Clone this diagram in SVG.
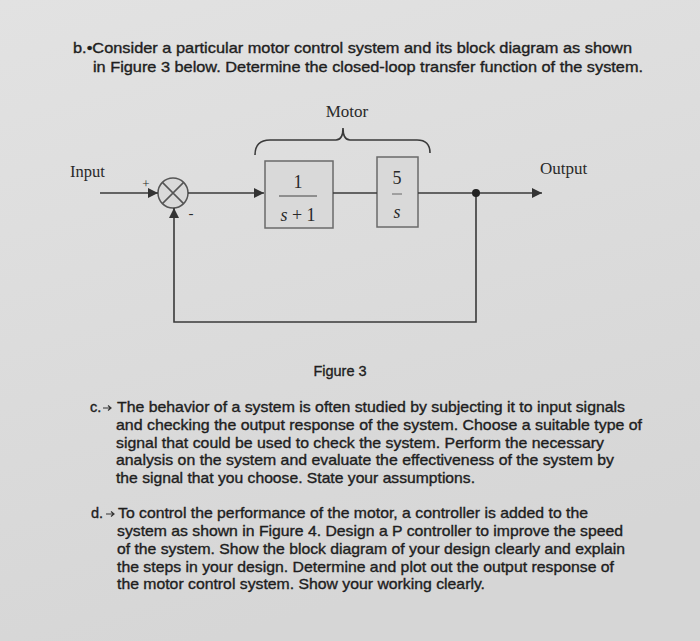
<svg xmlns="http://www.w3.org/2000/svg" width="700" height="641" viewBox="0 0 700 641">
<defs>
<linearGradient id="bg" x1="0" y1="0" x2="0.3" y2="1">
<stop offset="0" stop-color="#e2e2e2"/>
<stop offset="1" stop-color="#d6d6d6"/>
</linearGradient>
<marker id="arr" viewBox="0 0 10 10" refX="10" refY="5" markerWidth="10" markerHeight="10" markerUnits="userSpaceOnUse" orient="auto">
<path d="M0,0 L10,5 L0,10 Z" fill="#333"/>
</marker>
</defs>
<style>
.t{font-family:"Liberation Sans",Arial,sans-serif;font-size:14.5px;fill:#1e1e1e;stroke:#1e1e1e;stroke-width:0.35px}
.s{font-family:"Liberation Serif","Times New Roman",serif;fill:#2a2a2a}
.w{fill:none;stroke:#3a3a3a;stroke-width:1.6}
.blk{fill:#d9d9d9;stroke:#6a6a6a;stroke-width:1.5}
</style>
<rect x="0" y="0" width="700" height="641" fill="url(#bg)"/>

<g id="text-b">
<text class="t" x="73" y="53" textLength="559" lengthAdjust="spacingAndGlyphs">b.•Consider a particular motor control system and its block diagram as shown</text>
<text class="t" x="93" y="72" textLength="550" lengthAdjust="spacingAndGlyphs">in Figure 3 below. Determine the closed-loop transfer function of the system.</text>
</g>

<g id="motor-label">
<path class="w" d="M255,155 Q255,140 270,140 L336,140 Q343,140 343,128 Q343,140 350,140 L417,140 Q430,140 430,153" stroke="#666" stroke-width="1.4"/>
<text class="s" x="347" y="117" font-size="17" text-anchor="middle">Motor</text>
</g>

<g id="input-label"><text class="s" x="70" y="177" font-size="16.5">Input</text></g>
<g id="output-label"><text class="s" x="540" y="174" font-size="17">Output</text></g>

<g id="sum">
<circle cx="173" cy="193" r="15" fill="#d9d9d9" stroke="#555" stroke-width="1.5"/>
<path d="M162.4,182.4 L183.6,203.6 M183.6,182.4 L162.4,203.6" stroke="#555" stroke-width="1.5"/>
<text class="s" x="146" y="188" font-size="13" text-anchor="middle">+</text>
<text class="s" x="191" y="218" font-size="15" text-anchor="middle">-</text>
</g>

<g id="block1">
<rect class="blk" x="265" y="161" width="68" height="67"/>
<text class="s" x="298" y="188" font-size="18" text-anchor="middle">1</text>
<line x1="279" y1="196" x2="317" y2="196" stroke="#444" stroke-width="1"/>
<text class="s" x="298" y="221" font-size="18" text-anchor="middle"><tspan font-style="italic">s</tspan> + 1</text>
</g>

<g id="block2">
<rect class="blk" x="377" y="157" width="41" height="70"/>
<text class="s" x="397" y="184" font-size="18" text-anchor="middle">5</text>
<line x1="392" y1="194" x2="402" y2="194" stroke="#666" stroke-width="1"/>
<text class="s" x="397" y="218" font-size="18" font-style="italic" text-anchor="middle">s</text>
</g>

<g id="connectors">
<line class="w" x1="100" y1="193" x2="158" y2="193" marker-end="url(#arr)"/>
<line class="w" x1="188" y1="193" x2="264" y2="193" marker-end="url(#arr)"/>
<line class="w" x1="333" y1="193" x2="377" y2="193"/>
<line class="w" x1="418" y1="193" x2="542" y2="193" marker-end="url(#arr)"/>
<polyline class="w" points="476,193 476,322 174,322 174,208" marker-end="url(#arr)"/>
<circle cx="476" cy="193" r="4" fill="#222"/>
</g>

<g id="caption"><text class="t" x="340" y="376" text-anchor="middle">Figure 3</text></g>

<g id="text-c">
<text class="t" x="90" y="412">c.</text>
<text class="t" x="117" y="412" textLength="508" lengthAdjust="spacingAndGlyphs">The behavior of a system is often studied by subjecting it to input signals</text>
<path d="M103,408 L111,408 M108,405.5 L111,408 L108,410.5" stroke="#333" stroke-width="1.2" fill="none"/>
<text class="t" x="116" y="430" textLength="526" lengthAdjust="spacingAndGlyphs">and checking the output response of the system. Choose a suitable type of</text>
<text class="t" x="116" y="448" textLength="488" lengthAdjust="spacingAndGlyphs">signal that could be used to check the system. Perform the necessary</text>
<text class="t" x="116" y="465" textLength="498" lengthAdjust="spacingAndGlyphs">analysis on the system and evaluate the effectiveness of the system by</text>
<text class="t" x="116" y="483" textLength="359" lengthAdjust="spacingAndGlyphs">the signal that you choose. State your assumptions.</text>
</g>

<g id="text-d">
<text class="t" x="91" y="518">d.</text>
<path d="M106,514 L114,514 M111,511.5 L114,514 L111,516.5" stroke="#333" stroke-width="1.2" fill="none"/>
<text class="t" x="118" y="518" textLength="470" lengthAdjust="spacingAndGlyphs">To control the performance of the motor, a controller is added to the</text>
<text class="t" x="117" y="536" textLength="506" lengthAdjust="spacingAndGlyphs">system as shown in Figure 4. Design a P controller to improve the speed</text>
<text class="t" x="117" y="554" textLength="508" lengthAdjust="spacingAndGlyphs">of the system. Show the block diagram of your design clearly and explain</text>
<text class="t" x="117" y="572" textLength="497" lengthAdjust="spacingAndGlyphs">the steps in your design. Determine and plot out the output response of</text>
<text class="t" x="117" y="589" textLength="368" lengthAdjust="spacingAndGlyphs">the motor control system. Show your working clearly.</text>
</g>
</svg>
